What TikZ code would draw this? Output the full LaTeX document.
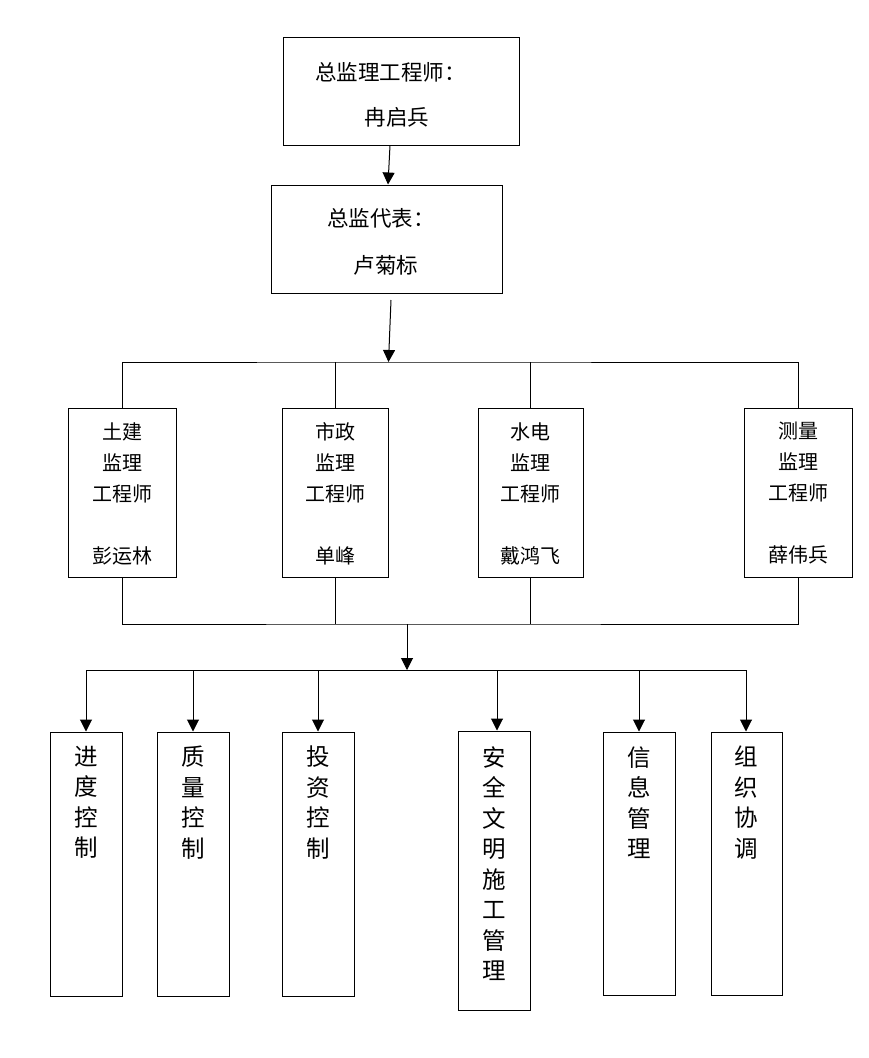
\documentclass[tikz,border=0pt]{standalone}
\usepackage{fontspec}
\newfontfamily\cjk{Noto Sans CJK SC}
\usetikzlibrary{arrows.meta}
\tikzset{
  box/.style={draw=black, line width=1pt, fill=white, inner sep=0pt, rectangle},
  ttl/.style={font=\cjk\fontsize{21.5}{24}\selectfont, inner sep=0pt},
  eng/.style={font=\cjk\fontsize{20}{31}\selectfont, align=center, inner sep=0pt},
  vtx/.style={font=\cjk\fontsize{23.5}{30.5}\selectfont, align=center, inner sep=0pt},
  wire/.style={line width=1pt, draw=black},
  arr/.style={wire, -{Triangle[width=12pt,length=12pt]}}
}
\begin{document}
\begin{tikzpicture}[x=1pt,y=-1pt]
\useasboundingbox[fill=white] (0,0) rectangle (868,1058);
% top boxes
\node[box, minimum width=236pt, minimum height=108pt] (chief) at (401,91) {};
\node[ttl, anchor=west] (chiefA) at (315,72) {总监理工程师：};
\node[ttl] (chiefB) at (397,117) {冉启兵};
\node[box, minimum width=231pt, minimum height=108pt] (dep) at (386.5,239) {};
\node[ttl, anchor=west] (depA) at (327,218) {总监代表：};
\node[ttl] (depB) at (386,265) {卢菊标};
\draw[arr] ([xshift=-11pt]chief.south) -- ([xshift=1.5pt]dep.north);
% engineers
\node[box, minimum width=108pt, minimum height=169pt] (e1) at (122,492.5) {};
\node[box, minimum width=106pt, minimum height=169pt] (e2) at (335,492.5) {};
\node[box, minimum width=105pt, minimum height=169pt] (e3) at (530.5,492.5) {};
\node[box, minimum width=108pt, minimum height=169pt] (e4) at (798,492.5) {};
\node[eng] (t1) at (122,493.5) {土建\\监理\\工程师\\[31pt]彭运林};
\node[eng] (t2) at (335,493.5) {市政\\监理\\工程师\\[31pt]单峰};
\node[eng] (t3) at (530.5,493.5) {水电\\监理\\工程师\\[31pt]戴鸿飞};
\node[eng] (t4) at (798,493.5) {测量\\监理\\工程师\\[31pt]薛伟兵};
\coordinate (busA) at (388.5,362);
\coordinate (depOut) at (391,300);
\draw[arr] (depOut) -- (busA);
\draw[wire] (e1.north) |- (busA) -| (e4.north);
\draw[wire] (e2.north) -- (e2.north |- busA);
\draw[wire] (e3.north) -- (e3.north |- busA);
\coordinate (busB) at (407,624);
\draw[wire] (e1.south) |- (busB) -| (e4.south);
\draw[wire] (e2.south) -- (e2.south |- busB);
\draw[wire] (e3.south) -- (e3.south |- busB);
% tasks
\node[box, minimum width=72pt, minimum height=264pt] (k1) at (86,864) {};
\node[box, minimum width=72pt, minimum height=264pt] (k2) at (193,864) {};
\node[box, minimum width=72pt, minimum height=264pt] (k3) at (318,864) {};
\node[box, minimum width=72pt, minimum height=279pt] (k4) at (494,870.5) {};
\node[box, minimum width=72pt, minimum height=263pt] (k5) at (639,863.5) {};
\node[box, minimum width=71pt, minimum height=263pt] (k6) at (746.5,863.5) {};
\node[vtx] (v1) at (86,802.5) {进\\度\\控\\制};
\node[vtx] (v2) at (193,802.5) {质\\量\\控\\制};
\node[vtx] (v3) at (318,802.5) {投\\资\\控\\制};
\node[vtx] (v4) at (494,863.5) {安\\全\\文\\明\\施\\工\\管\\理};
\node[vtx] (v5) at (639,802.5) {信\\息\\管\\理};
\node[vtx] (v6) at (746.5,802.5) {组\\织\\协\\调};
\coordinate (busC) at (407,670);
\draw[arr] (busB) -- (busC);
\coordinate (cL) at (86,670);
\coordinate (cR) at (746,670);
\draw[wire] (cL) -- (cR);
\draw[arr] (cL) -- (k1.north);
\draw[arr] (k2.north |- busC) -- (k2.north);
\draw[arr] (k3.north |- busC) -- (k3.north);
\draw[arr] ([xshift=3pt]k4.north |- busC) -- ([xshift=3pt]k4.north);
\draw[arr] (k5.north |- busC) -- (k5.north);
\draw[arr] (cR) -- (cR |- k6.north);
\end{tikzpicture}
\end{document}
